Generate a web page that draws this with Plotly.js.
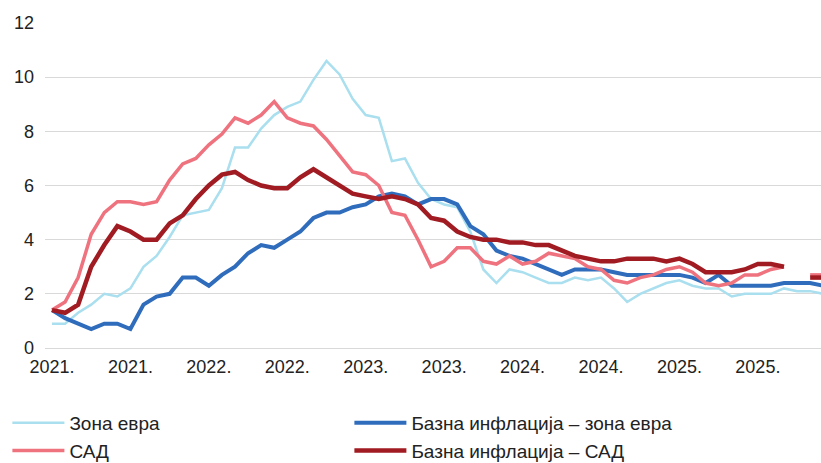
<!DOCTYPE html>
<html>
<head>
<meta charset="utf-8">
<script src="https://cdn.plot.ly/plotly-3.0.1.min.js"></script>
<style>html,body{margin:0;padding:0;background:#fff;}#chart{width:821px;height:463px;}</style>
</head>
<body>
<div id="chart"></div>
<script>
// Monthly data, January 2021 – December 2025 (index 0 = Jan 2021)
const months = Array.from({length: 60}, (_, i) => i);

const tickVals = [0, 6, 12, 18, 24, 30, 36, 42, 48, 54];
const tickText = ["2021.", "2021.", "2022.", "2022.", "2023.", "2023.", "2024.", "2024.", "2025.", "2025."];

// Зона евра (headline)
const euroHeadline = [
  0.9, 0.9, 1.3, 1.6, 2.0, 1.9, 2.2, 3.0, 3.4, 4.1, 4.9, 5.0,
  5.1, 5.9, 7.4, 7.4, 8.1, 8.6, 8.9, 9.1, 9.9, 10.6, 10.1, 9.2,
  8.6, 8.5, 6.9, 7.0, 6.1, 5.5, 5.3, 5.2, 4.3, 2.9, 2.4, 2.9,
  2.8, 2.6, 2.4, 2.4, 2.6, 2.5, 2.6, 2.2, 1.7, 2.0, 2.2, 2.4,
  2.5, 2.3, 2.2, 2.2, 1.9, 2.0, 2.0, 2.0, 2.2, 2.1, 2.1, 2.0
];

// Базна инфлација – зона евра
const euroCore = [
  1.4, 1.1, 0.9, 0.7, 0.9, 0.9, 0.7, 1.6, 1.9, 2.0, 2.6, 2.6,
  2.3, 2.7, 3.0, 3.5, 3.8, 3.7, 4.0, 4.3, 4.8, 5.0, 5.0, 5.2,
  5.3, 5.6, 5.7, 5.6, 5.3, 5.5, 5.5, 5.3, 4.5, 4.2, 3.6, 3.4,
  3.3, 3.1, 2.9, 2.7, 2.9, 2.9, 2.9, 2.8, 2.7, 2.7, 2.7, 2.7,
  2.7, 2.6, 2.4, 2.7, 2.3, 2.3, 2.3, 2.3, 2.4, 2.4, 2.4, 2.3
];

// САД (headline)
const usHeadline = [
  1.4, 1.7, 2.6, 4.2, 5.0, 5.4, 5.4, 5.3, 5.4, 6.2, 6.8, 7.0,
  7.5, 7.9, 8.5, 8.3, 8.6, 9.1, 8.5, 8.3, 8.2, 7.7, 7.1, 6.5,
  6.4, 6.0, 5.0, 4.9, 4.0, 3.0, 3.2, 3.7, 3.7, 3.2, 3.1, 3.4,
  3.1, 3.2, 3.5, 3.4, 3.3, 3.0, 2.9, 2.5, 2.4, 2.6, 2.7, 2.9,
  3.0, 2.8, 2.4, 2.3, 2.4, 2.7, 2.7, 2.9, 3.0, null, 2.7, 2.7
];

// Базна инфлација – САД
const usCore = [
  1.4, 1.3, 1.6, 3.0, 3.8, 4.5, 4.3, 4.0, 4.0, 4.6, 4.9, 5.5,
  6.0, 6.4, 6.5, 6.2, 6.0, 5.9, 5.9, 6.3, 6.6, 6.3, 6.0, 5.7,
  5.6, 5.5, 5.6, 5.5, 5.3, 4.8, 4.7, 4.3, 4.1, 4.0, 4.0, 3.9,
  3.9, 3.8, 3.8, 3.6, 3.4, 3.3, 3.2, 3.2, 3.3, 3.3, 3.3, 3.2,
  3.3, 3.1, 2.8, 2.8, 2.8, 2.9, 3.1, 3.1, 3.0, null, 2.6, 2.6
];

const FONT = "Liberation Sans, Arial, sans-serif";

const traces = [
  {x: months, y: euroHeadline, name: "Зона евра", type: "scatter", mode: "lines",
   line: {color: "#a9dfee", width: 2.5}},
  {x: months, y: euroCore, name: "Базна инфлација – зона евра", type: "scatter", mode: "lines",
   line: {color: "#2f6cbc", width: 4}},
  {x: months, y: usHeadline, name: "САД", type: "scatter", mode: "lines",
   line: {color: "#ee737f", width: 3.5}},
  {x: months, y: usCore, name: "Базна инфлација – САД", type: "scatter", mode: "lines",
   line: {color: "#a01b22", width: 4.5}}
];

const layout = {
  width: 821, height: 463,
  margin: {l: 45, r: 0, t: 23, b: 115},
  paper_bgcolor: "#ffffff", plot_bgcolor: "#ffffff",
  font: {family: FONT, color: "#222222", size: 18},
  showlegend: true,
  xaxis: {
    range: [-0.535, 58.83],
    tickmode: "array", tickvals: tickVals, ticktext: tickText,
    showgrid: false, zeroline: false,
    showline: false,
    ticks: "", ticklabelstandoff: 6,
    tickfont: {size: 18, color: "#222222"}
  },
  yaxis: {
    range: [0, 12],
    tickmode: "array", tickvals: [0, 2, 4, 6, 8, 10, 12],
    showgrid: true, gridcolor: "#d9d9d9", gridwidth: 1,
    zeroline: true, zerolinecolor: "#d9d9d9", zerolinewidth: 1,
    showline: false, ticks: "", ticklabelstandoff: 10,
    tickfont: {size: 18, color: "#222222"}
  },
  legend: {
    orientation: "h",
    xref: "container", yref: "container",
    x: 0.009, y: 1 - 404 / 463, xanchor: "left", yanchor: "top",
    entrywidth: 275, entrywidthmode: "pixels",
    itemwidth: 52,
    font: {size: 19, family: FONT, color: "#222222"},
    bgcolor: "rgba(0,0,0,0)", tracegroupgap: 0
  }
};

Plotly.newPlot("chart", traces, layout, {displayModeBar: false, staticPlot: true});
</script>
</body>
</html>
